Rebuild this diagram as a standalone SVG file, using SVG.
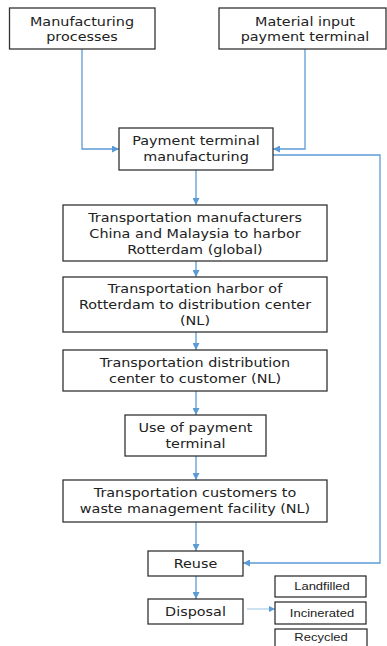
<svg xmlns="http://www.w3.org/2000/svg" width="387" height="646" viewBox="0 0 387 646">
<defs>
<style>
.box{fill:#fff;stroke:#333;stroke-width:1.3}
.sbox{fill:#fff;stroke:#222;stroke-width:1.2}
.t{font-family:"DejaVu Sans",Verdana,sans-serif;font-size:12.5px;fill:#222;text-anchor:middle}
.s{font-family:"Liberation Sans",Arial,sans-serif;font-size:11.5px;fill:#222;text-anchor:middle}
.c{fill:none;stroke:#5B9BD5;stroke-width:1.3}
.c2{fill:none;stroke:#9DC3E6;stroke-width:1}
</style>
<marker id="ah" viewBox="0 0 10 10" refX="10" refY="5" markerWidth="7" markerHeight="7" markerUnits="userSpaceOnUse" orient="auto">
<path d="M0,0 L10,5 L0,10 Z" fill="#5B9BD5"/>
</marker>
<marker id="ah2" viewBox="0 0 10 10" refX="10" refY="5" markerWidth="6" markerHeight="6" markerUnits="userSpaceOnUse" orient="auto">
<path d="M0,0 L10,5 L0,10 Z" fill="#5B9BD5"/>
</marker>
</defs>
<rect width="387" height="646" fill="#fff"/>
<g id="connectors">
<path class="c" d="M82,49 V149 H119" marker-end="url(#ah)"/>
<path class="c" d="M305,49 V149 H273" marker-end="url(#ah)"/>
<path class="c" d="M273,155 H380 V563 H243" marker-end="url(#ah)"/>
<path class="c" d="M196,170 V205" marker-end="url(#ah)"/>
<path class="c" d="M196,261 V277" marker-end="url(#ah)"/>
<path class="c" d="M196,332 V350" marker-end="url(#ah)"/>
<path class="c" d="M196,391 V415" marker-end="url(#ah)"/>
<path class="c" d="M196,456 V480" marker-end="url(#ah)"/>
<path class="c" d="M196,522 V551" marker-end="url(#ah)"/>
<path class="c" d="M196,576 V599" marker-end="url(#ah)"/>
<path class="c2" d="M247,609 H275" marker-end="url(#ah2)"/>
</g>
<g id="n-manufacturing-processes">
<rect class="box" x="9.5" y="8" width="145.5" height="41"/>
<text class="t" transform="translate(82,25.5) scale(1.15,1)">Manufacturing</text>
<text class="t" transform="translate(82,41) scale(1.15,1)">processes</text>
</g>
<g id="n-material-input">
<rect class="box" x="219" y="8" width="167" height="41"/>
<text class="t" transform="translate(305,25.5) scale(1.15,1)">Material input</text>
<text class="t" transform="translate(305,41) scale(1.15,1)">payment terminal</text>
</g>
<g id="n-payment-terminal-manufacturing">
<rect class="box" x="119" y="128" width="154" height="42"/>
<text class="t" transform="translate(196,145) scale(1.15,1)">Payment terminal</text>
<text class="t" transform="translate(196,161) scale(1.15,1)">manufacturing</text>
</g>
<g id="n-transport-global">
<rect class="box" x="63" y="205" width="264" height="56"/>
<text class="t" transform="translate(195,221.5) scale(1.15,1)">Transportation manufacturers</text>
<text class="t" transform="translate(195,237.5) scale(1.15,1)">China and Malaysia to harbor</text>
<text class="t" transform="translate(195,253.5) scale(1.15,1)">Rotterdam (global)</text>
</g>
<g id="n-transport-harbor">
<rect class="box" x="63" y="277" width="264" height="55"/>
<text class="t" transform="translate(195,293) scale(1.15,1)">Transportation harbor of</text>
<text class="t" transform="translate(195,309) scale(1.15,1)">Rotterdam to distribution center</text>
<text class="t" transform="translate(195,325) scale(1.15,1)">(NL)</text>
</g>
<g id="n-transport-customer">
<rect class="box" x="63" y="350" width="264" height="41"/>
<text class="t" transform="translate(195,366.5) scale(1.15,1)">Transportation distribution</text>
<text class="t" transform="translate(195,382.5) scale(1.15,1)">center to customer (NL)</text>
</g>
<g id="n-use">
<rect class="box" x="125" y="415" width="141" height="41"/>
<text class="t" transform="translate(195.5,431.5) scale(1.15,1)">Use of payment</text>
<text class="t" transform="translate(195.5,447.5) scale(1.15,1)">terminal</text>
</g>
<g id="n-transport-waste">
<rect class="box" x="63" y="480" width="264" height="42"/>
<text class="t" transform="translate(195,497) scale(1.15,1)">Transportation customers to</text>
<text class="t" transform="translate(195,513) scale(1.15,1)">waste management facility (NL)</text>
</g>
<g id="n-reuse">
<rect class="box" x="148" y="551" width="95" height="25"/>
<text class="t" transform="translate(195.5,568) scale(1.15,1)">Reuse</text>
</g>
<g id="n-disposal">
<rect class="box" x="148" y="599" width="95" height="25"/>
<text class="t" transform="translate(195.5,616) scale(1.15,1)">Disposal</text>
</g>
<g id="n-landfilled">
<rect class="sbox" x="275" y="576" width="91" height="21"/>
<text class="s" transform="translate(322,590) scale(1.13,1)">Landfilled</text>
</g>
<g id="n-incinerated">
<rect class="sbox" x="275" y="602" width="91" height="22"/>
<text class="s" transform="translate(322,617) scale(1.13,1)">Incinerated</text>
</g>
<g id="n-recycled">
<rect class="sbox" x="275" y="629" width="92" height="19"/>
<text class="s" transform="translate(321,640.5) scale(1.13,1)">Recycled</text>
</g>
</svg>
